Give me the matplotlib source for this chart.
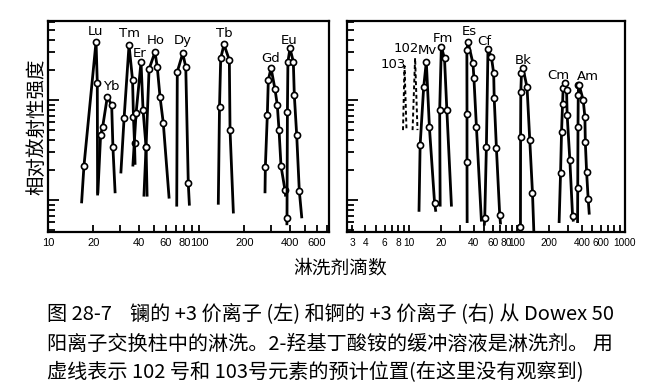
import matplotlib
matplotlib.use("Agg")
import matplotlib.pyplot as plt
from matplotlib.ticker import LogLocator, FixedLocator, FixedFormatter, NullFormatter

# lanthanides (left panel), drops of eluant vs relative activity
left_names = ["Lu", "Yb", "Tm", "Er", "Ho", "Dy", "Tb", "Gd", "Eu"]
left_x = [
    [16.7, 17.3, 20.8, 21.2, 21.3],
    [21.4, 22.3, 23.0, 24.7, 26.4, 26.9, 27.8],
    [30.4, 31.9, 34.4, 36.3, 36.8, 37.4, 37.7],
    [36.5, 38.3, 41.3, 42.6, 44.6, 45.3],
    [43.2, 44.6, 46.7, 51.1, 52.9, 55.2, 58.0, 63.3],
    [71.2, 71.8, 78.0, 81.7, 84.9, 86.3],
    [134.2, 136.7, 139.2, 146.4, 158.8, 160.5, 168.8],
    [273.6, 275, 283.4, 287.7, 299.8, 318.7, 330.0, 338.8, 349.2, 371.0, 374],
    [382, 382.6, 385, 388, 400.5, 421.3, 427.7, 443.6, 461.5, 478.7],
]
left_y = [
    [9.6, 22, 383, 149, 11.5],
    [12.0, 44.7, 53.7, 108, 89, 34, 12.1],
    [19.1, 66, 355, 158, 67.6, 37.2, 23.3],
    [22.4, 74, 240, 79.4, 33.9, 11.2],
    [11.2, 33.9, 204, 302, 214, 107, 58.9, 10.7],
    [8.9, 192, 293, 215, 14.7, 9.1],
    [9.3, 85.5, 261, 360, 251, 50.1, 7.6],
    [12.1, 21.5, 70.8, 158, 210, 128, 89, 50.1, 21.9, 12.6, 11.2],
    [5.8, 6.6, 76.2, 242, 329, 242, 112, 44.7, 12.4, 6.8],
]
left_label_x = [20.5, 26.4, 34.9, 40.6, 51.8, 78.0, 146.4, 299.8, 396]
left_label_y = [482, 136, 464, 293, 398, 398, 464, 261, 398]

# actinides (right panel)
right_names = ["Mv", "Fm", "Es", "Cf", "Bk", "Cm", "Am"]
right_x = [
    [12.5, 12.8, 13.8, 14.6, 15.6, 17.4, 17.8],
    [19.6, 19.4, 20.1, 21.5, 22.6, 24.9],
    [34.8, 34.7, 34.7, 34.6, 35.4, 39.4, 40.2, 42.4, 47.1],
    [50.2, 50.6, 52.4, 54.2, 58.3, 61.2, 61.9, 64.9, 69.6, 70.7],
    [108, 108.2, 108.5, 109, 110.5, 114.4, 124.5, 131.9, 139.8, 143.7],
    [246.4, 253.9, 259.4, 264.9, 268.4, 278.3, 288.6, 292.2, 309.5, 328.0, 332.1],
    [364.8, 366, 368, 370, 372, 377.5, 411.1, 426.2, 430, 441.9, 457.2, 467.1],
]
right_y = [
    [7.9, 35.5, 134, 242, 53.3, 9.4, 7.9],
    [8.9, 79.4, 341, 261, 79.4, 8.9],
    [6.1, 24.1, 72.4, 316, 383, 233, 165, 54, 6.3],
    [5.75, 6.6, 34, 321, 271, 185, 104, 32.9, 7.1, 5.9],
    [5.0, 5.4, 43, 121, 185, 207, 134, 39.8, 11.7, 5.0],
    [6.1, 18.5, 48.3, 91, 131, 147, 126, 70.8, 25.1, 6.9, 6.3],
    [6.1, 13.1, 54, 112, 141, 141, 100, 68, 38.3, 19.2, 10.2, 7.4],
]
right_label_x = [15.0, 20.8, 36.2, 50.6, 114.4, 241, 451]
right_label_y = [316, 414, 482, 383, 251, 178, 171]

# predicted positions of 103 and 102 (dashed)
dashed_names = ["103", "102"]
dashed_x = [[8.89, 9.18, 9.58], [10.9, 11.5, 12.1]]
dashed_y = [[50.1, 219, 50.1], [50.1, 263, 50.1]]
dashed_label_x = [7.2, 9.5]
dashed_label_y = [228, 330]

left_ticks = [10, 20, 40, 60, 80, 100, 200, 400, 600]
right_ticks = [3, 4, 6, 8, 10, 20, 40, 60, 80, 100, 200, 400, 600, 1000]

y_label = "相对放射性强度"
x_label = "淋洗剂滴数"
caption = [
    "图 28-7    镧的 +3 价离子 (左) 和锕的 +3 价离子 (右) 从 Dowex 50",
    "阳离子交换柱中的淋洗。2-羟基丁酸铵的缓冲溶液是淋洗剂。 用",
    "虚线表示 102 号和 103号元素的预计位置(在这里没有观察到)",
]

plt.rcParams['font.family'] = ['Noto Sans CJK SC', 'DejaVu Sans']

fig = plt.figure(figsize=(6.66, 3.90), dpi=100)
ax1 = fig.add_axes([0.0721, 0.4051, 0.4219, 0.5410])
ax2 = fig.add_axes([0.5210, 0.4051, 0.4174, 0.5410])


def draw(ax, xs, ys):
    for x, y in zip(xs, ys):
        ax.plot(x, y, color='k', lw=2.0)
        ax.plot(x[1:-1], y[1:-1], 'o', ms=4.4, mfc='white', mec='k', mew=1.2)


draw(ax1, left_x, left_y)
draw(ax2, right_x, right_y)
for x, y in zip(dashed_x, dashed_y):
    ax2.plot(x, y, color='k', lw=1.4, ls=(0, (2, 1.5)))

for n, x, y in zip(left_names, left_label_x, left_label_y):
    ax1.text(x, y, n, ha='center', va='center', fontsize=9.5, family='DejaVu Sans')
for n, x, y in zip(right_names + dashed_names,
                   right_label_x + dashed_label_x,
                   right_label_y + dashed_label_y):
    ax2.text(x, y, n, ha='center', va='center', fontsize=9.5, family='DejaVu Sans')

for ax, lim, ticks, fs in ((ax1, (10, 726), left_ticks, 8),
                           (ax2, (2.7, 1000), right_ticks, 7.3)):
    ax.set_xscale('log')
    ax.set_yscale('log')
    ax.set_xlim(*lim)
    ax.set_ylim(4.8, 617)
    ax.xaxis.set_major_locator(FixedLocator(ticks))
    ax.xaxis.set_major_formatter(FixedFormatter([str(t) for t in ticks]))
    ax.xaxis.set_minor_locator(LogLocator(base=10, subs=range(1, 10)))
    ax.xaxis.set_minor_formatter(NullFormatter())
    ax.yaxis.set_major_locator(LogLocator(base=10))
    ax.yaxis.set_minor_locator(LogLocator(base=10, subs=range(2, 10)))
    ax.yaxis.set_major_formatter(NullFormatter())
    ax.yaxis.set_minor_formatter(NullFormatter())
    ax.tick_params(axis='x', which='both', direction='in', length=5, width=1.3,
                   top=False, labelsize=fs, pad=4, labelfontfamily='Liberation Sans')
    ax.tick_params(axis='y', which='major', direction='in', length=8, width=1.3,
                   right=False)
    ax.tick_params(axis='y', which='minor', direction='in', length=5, width=1.3,
                   right=False)
    for s in ax.spines.values():
        s.set_linewidth(1.6)

fig.text(0.0556, 0.674, y_label, rotation=90, ha='center', va='center', fontsize=14)
fig.text(0.511, 0.313, x_label, ha='center', va='center', fontsize=13.5)
for i, line in enumerate(caption):
    fig.text(0.0706, [0.197, 0.118, 0.0436][i], line, ha='left', va='center', fontsize=14.5)

fig.savefig("out.png", dpi=100)
